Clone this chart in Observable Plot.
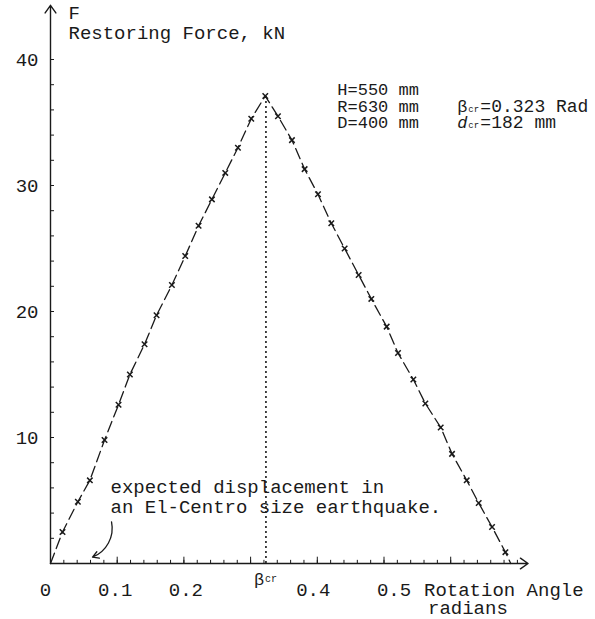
<!DOCTYPE html>
<html>
<head>
<meta charset="utf-8">
<script src="https://cdn.jsdelivr.net/npm/d3@7"></script>
<script src="https://cdn.jsdelivr.net/npm/@observablehq/plot@0.6"></script>
<style>
  html, body { margin: 0; padding: 0; background: #fff; }
  #chart svg { display: block; }
</style>
</head>
<body>
<div id="chart"></div>
<script>
// Rotation angle (radians)
const theta = [0, 0.018, 0.041, 0.059, 0.081, 0.102, 0.119, 0.141, 0.159, 0.182, 0.202, 0.222, 0.242, 0.262, 0.281, 0.301, 0.322,
               0.341, 0.362, 0.381, 0.401, 0.421, 0.441, 0.462, 0.481, 0.504, 0.521, 0.544, 0.562, 0.585, 0.602, 0.624, 0.642, 0.662, 0.682, 0.690];
// Restoring force (kN)
const force = [0, 2.5, 4.9, 6.6, 9.8, 12.6, 15.0, 17.4, 19.7, 22.1, 24.4, 26.8, 28.9, 31.0, 33.0, 35.3, 37.1,
               35.5, 33.6, 31.3, 29.3, 27.0, 25.0, 22.9, 21.0, 18.8, 16.7, 14.6, 12.7, 10.8, 8.7, 6.6, 4.8, 2.9, 0.9, 0];
// Critical angle
const betaCr = 0.323;
const peakForce = 37.1;

// Axis tick labels
const xTickValues = [0, 0.1, 0.2, 0.4, 0.5];
const xTickLabels = ["0", "0.1", "0.2", "0.4", "0.5"];
const xTickShift = [-5, -2, 2, -4, 10];
const yTickValues = [10, 20, 30, 40];
const yTickLabels = ["10", "20", "30", "40"];
const xMinorTicks = d3.range(0.02, 0.701, 0.02);
const xMajorTicks = [0.1, 0.2, 0.3, 0.4, 0.5, 0.6];
const yMinorTicks = d3.range(2, 40.01, 2);

// Notes
const paramLines = ["H=550 mm", "R=630 mm", "D=400 mm"];
const paramLevels = [37.6, 36.3, 35.0];
const quakeLines = ["expected displacement in", "an El-Centro size earthquake."];
const quakeLevels = [6.1, 4.5];

const data = theta.map((t, i) => ({theta: t, force: force[i]}));
const markers = data.slice(1, -1);

const FONT = "Liberation Mono, Courier New, monospace";
const ink = "#1a1a1a";
const FS = 19;

const xLabelMarks = xTickValues.map((v, i) =>
  Plot.text([v], {x: d => d, y: 0, text: [xTickLabels[i]], dx: xTickShift[i], dy: 26, fontSize: FS, fill: ink})
);

const chart = Plot.plot({
  width: 595,
  height: 619,
  x: {domain: [0, 0.8], range: [50, 583.6], axis: null},
  y: {domain: [0, 40], range: [563, 59], axis: null},
  style: {fontFamily: FONT, background: "#fff", color: ink},
  marks: [
    // axes with arrow heads
    Plot.arrow([0], {x1: 0, y1: 0, x2: 0.716, y2: 0, stroke: ink, strokeWidth: 1.4, headLength: 10, headAngle: 70}),
    Plot.arrow([0], {x1: 0, y1: 0, x2: 0, y2: 44.3, stroke: ink, strokeWidth: 1.4, headLength: 10, headAngle: 70}),
    // axis ticks
    Plot.ruleX(xMinorTicks, {x: d => d, y1: 0, y2: 0.25, stroke: ink, strokeWidth: 1}),
    Plot.ruleX(xMajorTicks, {x: d => d, y1: 0, y2: 0.5, stroke: ink, strokeWidth: 1}),
    Plot.ruleY(yMinorTicks, {y: d => d, x1: 0, x2: 0.006, stroke: ink, strokeWidth: 1}),
    // tick labels
    ...xLabelMarks,
    Plot.text(yTickValues, {x: 0, y: d => d, text: (d, i) => yTickLabels[i], textAnchor: "end", dx: -12, fontSize: FS, fill: ink}),
    // beta_cr label on x axis
    Plot.text([betaCr], {x: d => d, y: 0, text: ["β"], textAnchor: "start", dy: 16, dx: -12, fontSize: 17, fill: ink}),
    Plot.text([betaCr], {x: d => d, y: 0, text: ["cr"], textAnchor: "start", dy: 15, dx: -1, fontSize: 10, fill: ink}),
    // axis titles
    Plot.text(["F"], {x: 0, y: 44, text: d => d, textAnchor: "start", dx: 18, dy: 4, fontSize: FS, fill: ink}),
    Plot.text(["Restoring Force, kN"], {x: 0, y: 44, text: d => d, textAnchor: "start", dx: 18, dy: 24, fontSize: FS, fill: ink}),
    Plot.text(["Rotation Angle"], {x: 0.5, y: 0, text: d => d, textAnchor: "start", dx: 40, dy: 26, fontSize: FS, fill: ink}),
    Plot.text(["radians"], {x: 0.5, y: 0, text: d => d, textAnchor: "start", dx: 44, dy: 44, fontSize: FS, fill: ink}),
    // dotted critical-angle line
    Plot.ruleX([betaCr], {x: d => d, y1: 0, y2: peakForce, stroke: ink, strokeWidth: 1.6, strokeDasharray: "2,3"}),
    // restoring force curve
    Plot.line(data, {x: "theta", y: "force", stroke: ink, strokeWidth: 1.3, strokeDasharray: "11,5"}),
    Plot.dot(markers, {x: "theta", y: "force", symbol: "times", r: 2.6, stroke: ink, strokeWidth: 1.5}),
    // parameter notes
    Plot.text(paramLines, {x: 0.43, y: (d, i) => paramLevels[i], text: d => d, textAnchor: "start", fontSize: 17, fill: ink}),
    Plot.text(["β"], {x: 0.61, y: paramLevels[1], text: d => d, textAnchor: "start", fontSize: 17, fill: ink}),
    Plot.text(["cr"], {x: 0.61, y: paramLevels[1], text: d => d, textAnchor: "start", dx: 11, dy: 3, fontSize: 9, fill: ink}),
    Plot.text(["=0.323 Rad"], {x: 0.61, y: paramLevels[1], text: d => d, textAnchor: "start", dx: 23, fontSize: 18, fill: ink}),
    Plot.text(["d"], {x: 0.61, y: paramLevels[2], text: d => d, textAnchor: "start", fontSize: 17, fontStyle: "italic", fill: ink}),
    Plot.text(["cr"], {x: 0.61, y: paramLevels[2], text: d => d, textAnchor: "start", dx: 11, dy: 3, fontSize: 9, fill: ink}),
    Plot.text(["=182 mm"], {x: 0.61, y: paramLevels[2], text: d => d, textAnchor: "start", dx: 23, fontSize: 18, fill: ink}),
    // earthquake note with curved arrow
    Plot.text(quakeLines, {x: 0.09, y: (d, i) => quakeLevels[i], text: d => d, textAnchor: "start", fontSize: FS, fill: ink}),
    Plot.arrow([0], {x1: 0.0915, y1: 3.3, x2: 0.063, y2: 0.5, bend: 40, stroke: ink, strokeWidth: 1.3, headLength: 8})
  ]
});
document.getElementById("chart").appendChild(chart);
</script>
</body>
</html>
